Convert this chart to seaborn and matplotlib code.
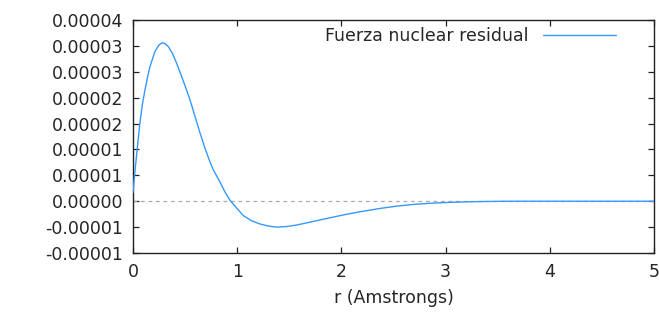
import numpy as np
import pandas as pd
import matplotlib
matplotlib.use('Agg')
import matplotlib.pyplot as plt
import seaborn as sns

# =========================
# Data
# =========================
r = [0.0, 0.02, 0.04, 0.067, 0.09, 0.115, 0.14, 0.163, 0.21, 0.25, 0.28,
     0.31, 0.338, 0.38, 0.418, 0.465, 0.514, 0.547, 0.58, 0.61, 0.643,
     0.69, 0.739, 0.77, 0.835, 0.88, 0.93, 0.994, 1.06, 1.14, 1.22, 1.3,
     1.38, 1.47, 1.57, 1.73, 1.89, 2.03, 2.16, 2.37, 2.53, 2.7, 2.85,
     3.0, 3.17, 3.35, 3.59, 4.0, 4.5, 5.0]
f = [1.7e-6, 6.0e-6, 1.0e-5, 15.2e-6, 18.7e-6, 21.5e-6, 24.0e-6, 26.0e-6,
     28.9e-6, 30.2e-6, 30.6e-6, 30.4e-6, 29.9e-6, 28.5e-6, 26.7e-6,
     24.2e-6, 21.5e-6, 19.6e-6, 17.4e-6, 15.4e-6, 13.2e-6, 10.3e-6,
     7.6e-6, 6.1e-6, 3.7e-6, 1.9e-6, 0.2e-6, -1.3e-6, -2.8e-6, -3.8e-6,
     -4.4e-6, -4.8e-6, -5.0e-6, -4.9e-6, -4.6e-6, -3.9e-6, -3.2e-6,
     -2.6e-6, -2.1e-6, -1.4e-6, -0.95e-6, -0.6e-6, -0.4e-6, -0.25e-6,
     -0.13e-6, -0.06e-6, 0.0, 0.0, 0.0, 0.0]

x_ticks = [0, 1, 2, 3, 4, 5]
y_ticks = [-1.0e-5, -0.5e-5, 0.0, 0.5e-5, 1.0e-5, 1.5e-5, 2.0e-5,
           2.5e-5, 3.0e-5, 3.5e-5]
y_labels = ['-0.00001', '-0.00001', '0.00000', '0.00001', '0.00001',
            '0.00002', '0.00002', '0.00003', '0.00003', '0.00004']

df = pd.DataFrame({'r': r, 'f': f})

# =========================
# Plot
# =========================
sns.set_style('ticks')
plt.rcParams['font.family'] = ['DejaVu Sans']
txt = '#262626'

fig = plt.figure(figsize=(6.59, 3.13), dpi=100)
ax = fig.add_axes([0.2018, 0.1917, 0.7906, 0.7443])

ax.axhline(0, color='#aaaaaa', lw=0.9, ls=(0, (3, 3)), zorder=1)
sns.lineplot(data=df, x='r', y='f', ax=ax, color='#3399ff', lw=1.0,
             label='Fuerza nuclear residual', zorder=3)

ax.set_xlim(0, 5)
ax.set_ylim(-1.0e-5, 3.5e-5)
ax.set_xticks(x_ticks)
ax.set_xticklabels([str(t) for t in x_ticks])
ax.set_yticks(y_ticks)
ax.set_yticklabels(y_labels)

ax.tick_params(direction='in', length=4, width=0.9, top=True, right=True,
               labelsize=12.5, labelcolor=txt, color='#222222', pad=7)
for s in ax.spines.values():
    s.set_color('#222222')
    s.set_linewidth(1.0)

ax.set_xlabel('r (Amstrongs)', fontsize=12.5, color=txt, labelpad=6)
ax.set_ylabel('')

leg = ax.legend(loc='upper right', frameon=False, markerfirst=False,
                fontsize=12.5, handlelength=4.2, borderaxespad=0.0,
                bbox_to_anchor=(0.94, 1.0))
for t in leg.get_texts():
    t.set_color(txt)

fig.savefig('out.png', dpi=100)
